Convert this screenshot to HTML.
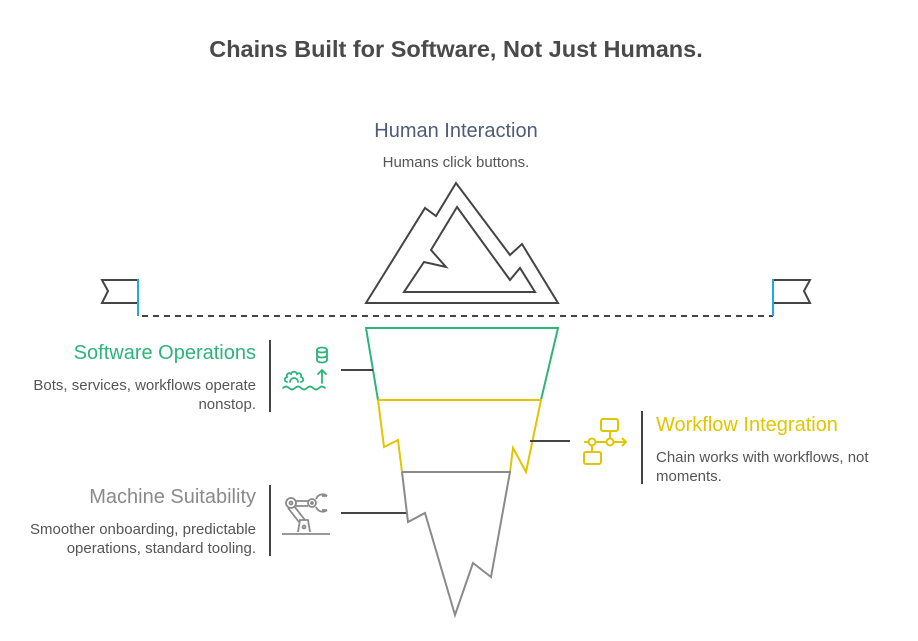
<!DOCTYPE html>
<html><head><meta charset="utf-8"><style>
html,body{margin:0;padding:0;background:#fff;}
svg{display:block;font-family:"Liberation Sans",sans-serif;}
</style></head><body>
<svg width="918" height="641" viewBox="0 0 918 641" xmlns="http://www.w3.org/2000/svg">
<text x="456" y="57" text-anchor="middle" font-size="23.5" font-weight="bold" fill="#4a4a4a">Chains Built for Software, Not Just Humans.</text>
<text x="456" y="137" text-anchor="middle" font-size="20" fill="#4f5b78">Human Interaction</text>
<text x="456" y="167" text-anchor="middle" font-size="15" fill="#555">Humans click buttons.</text>

<g fill="none" stroke="#444" stroke-width="2" stroke-linejoin="miter">
<polygon points="366,303 425,208 436,216 456,183 510,255 522,244 558,303"/>
<polygon points="457,207 510,280 520,268 535,292 404,292 424,262 446,267 431,250"/>
</g>

<line x1="142" y1="316" x2="773" y2="316" stroke="#444" stroke-width="2" stroke-dasharray="6,5"/>
<g fill="none" stroke="#444" stroke-width="2">
<polyline points="138,280 102,280 108,291 102,303 138,303"/>
<polyline points="773,280 810,280 804,291 810,303 773,303"/>
</g>
<line x1="138" y1="279" x2="138" y2="316" stroke="#1fa9e0" stroke-width="2"/>
<line x1="773" y1="279" x2="773" y2="316" stroke="#1fa9e0" stroke-width="2"/>

<polygon points="366,328 558,328 541,400 378,400" fill="none" stroke="#2db47a" stroke-width="2"/>
<polyline points="378,400 541,400 526,472 513,448 510,472 402,472 398,440 384,447 378,400" fill="none" stroke="#e0c600" stroke-width="2"/>
<polyline points="402,472 510,472 491,577 473,563 455,615 425,513 408,522 402,472" fill="none" stroke="#8a8a8a" stroke-width="2"/>

<g stroke="#444" stroke-width="2">
<line x1="341" y1="370" x2="373" y2="370"/>
<line x1="530" y1="441" x2="570" y2="441"/>
<line x1="341" y1="513" x2="406" y2="513"/>
<line x1="270" y1="340" x2="270" y2="412"/>
<line x1="270" y1="485" x2="270" y2="556"/>
<line x1="642" y1="411" x2="642" y2="484"/>
</g>

<text x="256" y="359" text-anchor="end" font-size="20" fill="#2db47a">Software Operations</text>
<text x="256" y="390" text-anchor="end" font-size="15" fill="#555">Bots, services, workflows operate</text>
<text x="256" y="409" text-anchor="end" font-size="15" fill="#555">nonstop.</text>

<text x="256" y="503" text-anchor="end" font-size="20" fill="#8a8a8a">Machine Suitability</text>
<text x="256" y="534" text-anchor="end" font-size="15" fill="#555">Smoother onboarding, predictable</text>
<text x="256" y="553" text-anchor="end" font-size="15" fill="#555">operations, standard tooling.</text>

<text x="656" y="431" font-size="20" fill="#e0c600">Workflow Integration</text>
<text x="656" y="462" font-size="15" fill="#555">Chain works with workflows, not</text>
<text x="656" y="481" font-size="15" fill="#555">moments.</text>

<g fill="none" stroke="#2db47a" stroke-width="1.8" stroke-linecap="round">
<ellipse cx="322" cy="350" rx="5" ry="2.5"/>
<path d="M317,350 v10 a5,2.5 0 0 0 10,0 v-10 M317,355 a5,2.5 0 0 0 10,0"/>
<path d="M322,383 v-13 M318,374 l4,-4 l4,4"/>
<path d="M287,382 c-3,-1 -3,-4 0,-5 c-1,-3 2,-5 4,-3 c1,-3 5,-3 6,0 c2,-2 5,0 4,3 c3,1 3,4 0,5"/>
<path d="M290,382 a4,4 0 0 1 8,0"/>
<path d="M283,388 q3,-3 6,0 t6,0 t6,0 t6,0 t6,0 t6,0 t6,0"/>
</g>
<g fill="none" stroke="#e0c600" stroke-width="2">
<rect x="601" y="419" width="17" height="12" rx="2"/>
<rect x="584" y="452" width="17" height="12" rx="2"/>
<circle cx="592" cy="442" r="3.5"/><circle cx="610" cy="442" r="3.5"/>
<path d="M584,442 h4.5 M595.5,442 h11 M613.5,442 h13 M622,438 l4,4 l-4,4 M592,445.5 v6.5 M610,431 v7.5"/>
</g>
<g fill="none" stroke="#8a8a8a" stroke-width="1.8">
<circle cx="291" cy="503" r="5"/><circle cx="291" cy="503" r="1.5"/>
<circle cx="312" cy="503" r="4"/><circle cx="312" cy="503" r="1"/>
<path d="M296,501 h12 M296,506 h12"/>
<path d="M316,499 c2,-5 8,-6 11,-3 M316,507 c2,5 8,6 11,3 M327,496 h-5 M327,510 h-5"/>
<path d="M288,508 l11,14 M294,506 l11,14"/>
<path d="M298,532 l2,-12 h8 l2,12"/><circle cx="304" cy="527" r="1.5"/>
<path d="M282,534 h48"/>
</g>
</svg>
</body></html>
